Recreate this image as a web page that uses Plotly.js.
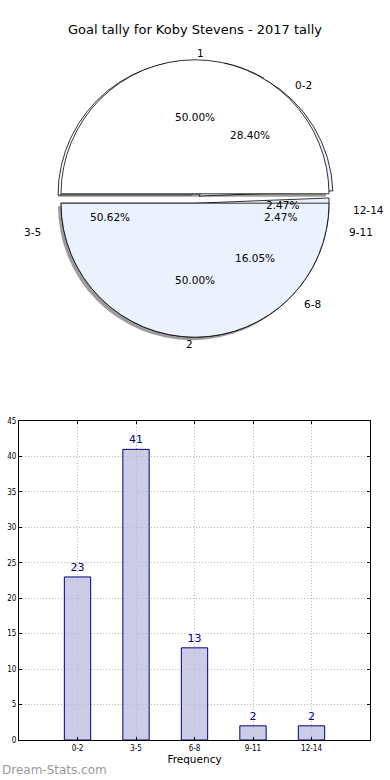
<!DOCTYPE html>
<html>
<head>
<meta charset="utf-8">
<script src="https://cdn.plot.ly/plotly-3.0.1.min.js"></script>
<style>
html,body{margin:0;padding:0;background:#fff;}
#chart{width:390px;height:780px;}
</style>
</head>
<body>
<div id="chart"></div>
<script>
// ---- data ----
var categories = ['0-2', '3-5', '6-8', '9-11', '12-14'];
var counts = [23, 41, 13, 2, 2];
var halfLabels = ['1', '2'];
var halfValues = [1, 1];
var chartTitle = 'Goal tally for Koby Stevens - 2017 tally';
var xTitle = 'Frequency';
var watermark = 'Dream-Stats.com';

// ---- styles ----
var W = 390, H = 780;
var FONT = 'DejaVu Sans, Liberation Sans, sans-serif';
var pieColorsB = ['#ffffff', '#ebf1fd', '#ebf1fd', '#c6d6ef', '#c9e08b'];
var pieColorsA = ['#ffffff', '#ebf1fd'];
var pull = 0.035;
var cxPx = 195, cyPx = 198.5, rPx = 134;
var textRx = 138, textRy = 128;
var half = rPx * (1 + pull);
var pieDomain = {x: [(cxPx - half) / W, (cxPx + half) / W], y: [1 - (cyPx + half) / H, 1 - (cyPx - half) / H]};
var sh = 3;
var shadowDomain = {x: [(cxPx - sh - half) / W, (cxPx - sh + half) / W], y: [1 - (cyPx + sh + half) / H, 1 - (cyPx + sh - half) / H]};

function pieTrace(labels, values, colors, domain, lineW) {
  return {
    type: 'pie', labels: labels, values: values, sort: false,
    direction: 'counterclockwise', rotation: -90,
    pull: values.map(function () { return pull; }),
    marker: {colors: colors, line: {color: lineW ? '#000000' : 'rgba(0,0,0,0)', width: lineW}},
    textinfo: 'none', hoverinfo: 'skip', showlegend: false, domain: domain
  };
}

var traces = [];
traces.push(pieTrace(halfLabels, halfValues, ['rgba(90,90,90,0.6)', 'rgba(90,90,90,0.6)'], shadowDomain, 0));
traces.push(pieTrace(categories, counts, pieColorsB, pieDomain, 0.8));
traces.push(pieTrace(halfLabels, halfValues, pieColorsA, pieDomain, 0.8));

// pie text annotations placed from the values (matplotlib style)
var annotations = [];
function pieTexts(labels, values) {
  var total = values.reduce(function (a, b) { return a + b; }, 0);
  var cum = 0;
  values.forEach(function (v, i) {
    var frac = v / total;
    var theta = 2 * Math.PI * (cum + frac / 2);
    cum += frac;
    var c = Math.cos(theta), s = Math.sin(theta);
    var pk = pull + 0.6, lk = pull + 1.1;
    annotations.push({
      xref: 'paper', yref: 'paper', showarrow: false,
      x: (cxPx + pk * textRx * c) / W, y: 1 - (cyPx - pk * textRy * s) / H,
      xanchor: 'center', yanchor: 'middle',
      text: (frac * 100).toFixed(2) + '%',
      font: {family: FONT, size: 10.5, color: '#000'}
    });
    annotations.push({
      xref: 'paper', yref: 'paper', showarrow: false,
      x: (cxPx + lk * textRx * c) / W, y: 1 - (cyPx - lk * textRy * s) / H,
      xanchor: c > 0 ? 'left' : 'right', yanchor: 'middle',
      text: labels[i],
      font: {family: FONT, size: 10.5, color: '#000'}
    });
  });
}
pieTexts(categories, counts);
pieTexts(halfLabels, halfValues);

annotations.push({
  xref: 'paper', yref: 'paper', showarrow: false, x: 0.5, y: 1 - 30 / H,
  xanchor: 'center', yanchor: 'middle', text: chartTitle,
  font: {family: FONT, size: 13, color: '#000'}
});
annotations.push({
  xref: 'paper', yref: 'paper', showarrow: false, x: 0, y: 1 - 770 / H,
  xanchor: 'left', yanchor: 'middle', text: watermark,
  font: {family: 'DejaVu Sans, sans-serif', size: 12, color: '#9a9a9a'}
});

// bar chart
traces.push({
  type: 'bar', x: categories, y: counts, xaxis: 'x', yaxis: 'y',
  width: 0.45,
  marker: {color: 'rgba(187,187,222,0.75)', line: {color: '#000080', width: 1}},
  text: counts.map(String), textposition: 'outside', cliponaxis: false,
  textfont: {family: FONT, size: 11, color: '#00008b'},
  hoverinfo: 'skip', showlegend: false
});

var layout = {
  width: W, height: H,
  margin: {l: 0, r: 0, t: 0, b: 0},
  paper_bgcolor: '#ffffff', plot_bgcolor: '#ffffff',
  showlegend: false,
  font: {family: FONT},
  xaxis: {
    domain: [19 / W, 370 / W], type: 'category', range: [-1, 5],
    showline: true, linecolor: '#000', linewidth: 1, mirror: 'ticks',
    ticks: 'inside', ticklen: 3, tickcolor: '#000',
    showgrid: true, gridcolor: '#b8b8b8', griddash: '1px,2px', gridwidth: 1,
    tickfont: {family: 'DejaVu Sans Condensed, DejaVu Sans, sans-serif', size: 8, color: '#000'},
    title: {text: xTitle, font: {family: FONT, size: 10.5, color: '#000'}, standoff: 4},
    zeroline: false, fixedrange: true
  },
  yaxis: {
    domain: [1 - 740 / H, 1 - 421 / H], range: [0, 45], dtick: 5,
    showline: true, linecolor: '#000', linewidth: 1, mirror: 'ticks',
    ticks: 'inside', ticklen: 3, tickcolor: '#000',
    showgrid: true, gridcolor: '#b8b8b8', griddash: '1px,2px', gridwidth: 1,
    tickfont: {family: 'DejaVu Sans Condensed, DejaVu Sans, sans-serif', size: 8, color: '#000'},
    zeroline: false, fixedrange: true
  },
  annotations: annotations
};

Plotly.newPlot('chart', traces, layout, {displayModeBar: false, staticPlot: true});
</script>
</body>
</html>
